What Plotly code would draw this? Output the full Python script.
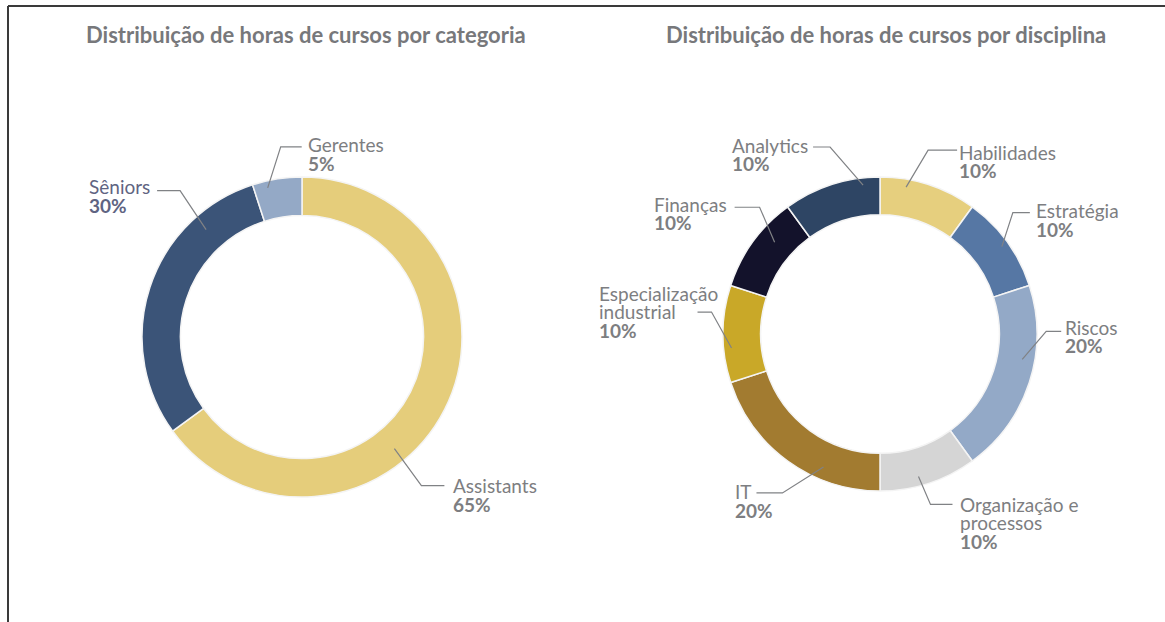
import plotly.graph_objects as go
import math

W, H = 1165, 622

# ---------------- data ----------------
cat_labels = ["Assistants", "Sêniors", "Gerentes"]
cat_values = [65, 30, 5]
cat_colors = ["#e5cd7b", "#3b5478", "#94a9c6"]

disc_labels = ["Habilidades", "Estratégia", "Riscos", "Organização e processos",
               "IT", "Especialização industrial", "Finanças", "Analytics"]
disc_values = [10, 10, 20, 10, 20, 10, 10, 10]
disc_colors = ["#e6cf7e", "#5677a4", "#93a9c7", "#d5d5d5",
               "#a27b30", "#c9a828", "#13122b", "#2e4564"]

title_left = "Distribuição de horas de cursos por categoria"
title_right = "Distribuição de horas de cursos por disciplina"

# ---------------- layout (pixels) ----------------
left_center, left_R = (302, 337), 160
right_center, right_R = (880, 334), 157
HOLE = 0.76

# label placement: frac in slice, radius frac, elbow dx, dy, horizontal run,
# text x offset from line end, first-line y offset, text lines, color
left_place = {
    "Assistants": (0.60, 0.906, 27, 37, 23, 8, 0, ["Assistants"], "#7d7e81"),
    "Sêniors":    (0.78, 0.90, -26, -39, -23, -69, -4, ["Sêniors"], "#5f6482"),
    "Gerentes":   (0.28, 0.956, 13, -41, 21, 5, -2, ["Gerentes"], "#7d7e81"),
}
right_place = {
    "Habilidades": (0.28, 0.95, 22, -37, 29, 1, 2, ["Habilidades"], "#7d7e81"),
    "Estratégia": (0.51, 0.955, 11, -34, 17, 5, -2, ["Estratégia"], "#7d7e81"),
    "Riscos": (0.39, 0.92, 24, -28, 15, 3, -4, ["Riscos"], "#7d7e81"),
    "Organização e processos": (0.58, 0.94, 12, 28, 22, 7, 0, ["Organização e", "processos"], "#7d7e81"),
    "IT": (0.32, 0.92, -41, 26, -26, -22, -1, ["IT"], "#7d7e81"),
    "Especialização industrial": (0.35, 0.95, -20, -36, -14, -100, -19, ["Especialização", "industrial"], "#7d7e81"),
    "Finanças": (0.64, 0.89, -15, -35, -25, -82, -3, ["Finanças"], "#7d7e81"),
    "Analytics": (0.82, 0.955, -33, -38, -17, -82, -2, ["Analytics"], "#7d7e81"),
}

FONT = "Lato, 'Open Sans', sans-serif"
LBL_SIZE = 19
LINE_STEP = 18.5
LINE_COLOR = "#808285"


def px(x):
    return x / W


def py(y):
    return 1 - y / H


def domain(center, R):
    cx, cy = center
    return dict(x=[px(cx - R), px(cx + R)], y=[py(cy + R), py(cy - R)])


fig = go.Figure()

fig.add_trace(go.Pie(
    labels=cat_labels, values=cat_values, hole=HOLE, sort=False,
    direction="clockwise", rotation=0, textinfo="none", hoverinfo="label+percent",
    marker=dict(colors=cat_colors, line=dict(color="#f4f4f4", width=1.5)),
    domain=domain(left_center, left_R), showlegend=False,
))
fig.add_trace(go.Pie(
    labels=disc_labels, values=disc_values, hole=HOLE, sort=False,
    direction="clockwise", rotation=0, textinfo="none", hoverinfo="label+percent",
    marker=dict(colors=disc_colors, line=dict(color="#f4f4f4", width=1.5)),
    domain=domain(right_center, right_R), showlegend=False,
))

shapes = []
annotations = []


def add_labels(labels, values, center, R, place):
    total = sum(values)
    cum = 0
    cx, cy = center
    for lab, val in zip(labels, values):
        frac, rf, edx, edy, hrun, tdx, tdy, lines, color = place[lab]
        theta = math.radians((cum + frac * val) / total * 360)
        sx = cx + rf * R * math.sin(theta)
        sy = cy - rf * R * math.cos(theta)
        ex, ey = sx + edx, sy + edy
        hx = ex + hrun
        shapes.append(dict(
            type="path", xref="paper", yref="paper",
            path=f"M {px(sx)} {py(sy)} L {px(ex)} {py(ey)} L {px(hx)} {py(ey)}",
            line=dict(color=LINE_COLOR, width=1.2),
        ))
        pct = round(val / total * 100)
        texts = [(t, False) for t in lines] + [(f"{pct}%", True)]
        for i, (t, bold) in enumerate(texts):
            annotations.append(dict(
                x=px(hx + tdx), y=py(ey + tdy + i * LINE_STEP),
                xref="paper", yref="paper", xanchor="left", yanchor="middle",
                text=f"<b>{t}</b>" if bold else t, showarrow=False,
                font=dict(family=FONT, size=LBL_SIZE, color=color),
                borderpad=0,
            ))
        cum += val


add_labels(cat_labels, cat_values, left_center, left_R, left_place)
add_labels(disc_labels, disc_values, right_center, right_R, right_place)

# titles
for t, x in [(title_left, 306), (title_right, 886)]:
    annotations.append(dict(
        x=px(x), y=py(34), xref="paper", yref="paper", xanchor="center", yanchor="middle",
        text=f"<b>{t}</b>", showarrow=False,
        font=dict(family=FONT, size=22, color="#77787b"),
    ))

# frame lines
shapes.append(dict(type="line", xref="paper", yref="paper", x0=px(8), x1=1, y0=py(6), y1=py(6),
                   line=dict(color="#3a3a3a", width=2)))
shapes.append(dict(type="line", xref="paper", yref="paper", x0=px(8), x1=px(8), y0=py(6), y1=0,
                   line=dict(color="#3a3a3a", width=2)))

fig.update_layout(
    width=W, height=H, margin=dict(l=0, r=0, t=0, b=0),
    paper_bgcolor="white", plot_bgcolor="white",
    shapes=shapes, annotations=annotations, showlegend=False,
)

fig.write_html("out.html")
